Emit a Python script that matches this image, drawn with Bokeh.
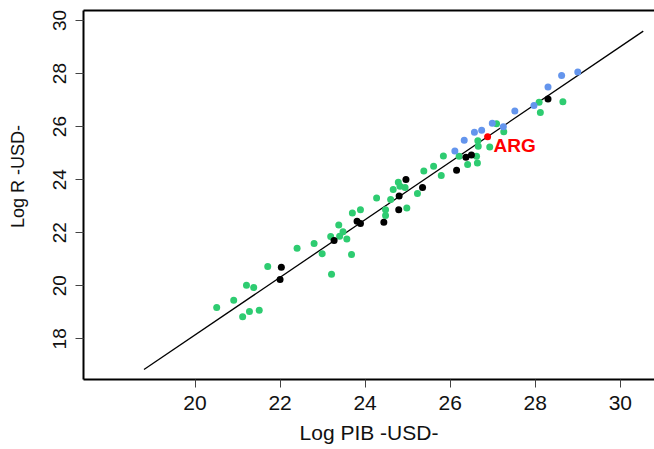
import math
from bokeh.plotting import figure
from bokeh.models import Range1d, FixedTicker, LinearAxis, Label
from bokeh.embed import file_html
from bokeh.resources import INLINE

# ---- data (Log PIB, Log R) ----
green_x = [20.51, 20.91, 21.21, 21.38, 21.28, 21.51, 21.12, 21.71, 22.40, 22.80,
           22.99, 23.21, 23.19, 23.38, 23.48, 23.40, 23.57, 23.68, 23.70, 23.89,
           24.27, 24.48, 24.48, 24.60, 24.66, 24.78, 24.82, 24.94, 24.98, 25.23,
           25.38, 25.61, 25.79, 25.84, 26.21, 26.41, 26.62, 26.64, 26.65, 26.66,
           26.93, 27.09, 27.26, 28.09, 28.12, 28.65]
green_y = [19.18, 19.45, 20.02, 19.93, 19.03, 19.08, 18.83, 20.73, 21.41, 21.59,
           21.21, 20.43, 21.86, 22.29, 22.04, 21.87, 21.76, 21.18, 22.74, 22.87,
           23.31, 22.87, 22.65, 23.25, 23.63, 23.90, 23.75, 23.70, 22.93, 23.48,
           24.33, 24.51, 24.16, 24.89, 24.88, 24.57, 24.88, 24.63, 25.47, 25.26,
           25.23, 26.11, 25.81, 26.92, 26.53, 26.94]

black_x = [22.00, 22.03, 23.27, 23.81, 23.89, 24.44, 24.79, 24.80, 24.96, 25.35,
           26.15, 26.37, 26.50, 28.30]
black_y = [20.24, 20.70, 21.71, 22.43, 22.35, 22.39, 22.87, 23.38, 24.01, 23.70,
           24.35, 24.84, 24.93, 27.04]

blue_x = [26.11, 26.33, 26.57, 26.74, 26.99, 27.25, 27.52, 27.97, 28.30, 28.62, 29.00]
blue_y = [25.08, 25.49, 25.79, 25.86, 26.13, 25.99, 26.59, 26.80, 27.49, 27.93, 28.06]

arg_x = [26.88]
arg_y = [25.62]
arg_label = "ARG"

fit_x = [18.80, 30.54]
fit_y = [16.84, 29.60]

x_ticks = [20, 22, 24, 26, 28, 30]
y_ticks = [18, 20, 22, 24, 26, 28, 30]

x_title = "Log PIB -USD-"
y_title = "Log R -USD-"
y_title_pos = 24.12

SANS = "'Liberation Sans', Arial, sans-serif"
INK = "#111111"

p = figure(width=654, height=449, output_backend="svg", toolbar_location=None,
           x_range=Range1d(17.378, 30.804), y_range=Range1d(16.466, 30.377),
           min_border_left=83, min_border_right=0, min_border_top=10,
           min_border_bottom=70, x_axis_location=None, y_axis_location=None)
p.outline_line_color = None
p.grid.visible = False
p.background_fill_color = "white"

# bottom axis
xa = LinearAxis(ticker=FixedTicker(ticks=x_ticks), axis_label=x_title)
xa.axis_line_width = 2
xa.axis_line_color = "black"
xa.major_tick_in = 0
xa.major_tick_out = 8
xa.major_tick_line_color = "#444444"
xa.minor_tick_line_color = None
xa.major_label_text_font = SANS
xa.major_label_text_font_size = "21px"
xa.major_label_text_color = INK
xa.major_label_standoff = 8
xa.axis_label_text_font = SANS
xa.axis_label_text_font_size = "21px"
xa.axis_label_text_font_style = "normal"
xa.axis_label_text_color = INK
xa.axis_label_standoff = 8
p.add_layout(xa, "below")

# left axis
ya = LinearAxis(ticker=FixedTicker(ticks=y_ticks))
ya.axis_line_width = 2
ya.axis_line_color = "black"
ya.major_tick_in = 0
ya.major_tick_out = 8
ya.major_tick_line_color = "#444444"
ya.minor_tick_line_color = None
ya.major_label_text_font = SANS
ya.major_label_text_font_size = "19px"
ya.major_label_text_color = INK
ya.major_label_orientation = "vertical"
ya.major_label_standoff = 9
p.add_layout(ya, "left")

# y axis title, as a single-label axis placed at the title's position
yt = LinearAxis(ticker=FixedTicker(ticks=[y_title_pos]),
                major_label_overrides={y_title_pos: y_title})
yt.axis_line_color = None
yt.major_tick_line_color = None
yt.minor_tick_line_color = None
yt.major_tick_in = 0
yt.major_tick_out = 0
yt.major_label_text_font = SANS
yt.major_label_text_font_size = "18px"
yt.major_label_text_color = INK
yt.major_label_orientation = "vertical"
yt.major_label_standoff = 22
p.add_layout(yt, "left")

# top border
ta = LinearAxis(ticker=FixedTicker(ticks=[]))
ta.axis_line_width = 2
ta.axis_line_color = "black"
ta.major_tick_line_color = None
ta.minor_tick_line_color = None
ta.major_label_text_font_size = "0px"
p.add_layout(ta, "above")

p.line(fit_x, fit_y, line_color="black", line_width=1.3)

p.scatter(green_x, green_y, size=7, fill_color="#2ECC71", line_color=None)
p.scatter(blue_x, blue_y, size=7, fill_color="#6495ED", line_color=None)
p.scatter(black_x, black_y, size=7, fill_color="black", line_color=None)
p.scatter(arg_x, arg_y, size=7, fill_color="#FF0000", line_color=None)

p.add_layout(Label(x=27.02, y=25.30, text=arg_label, text_color="#FF0000",
                   text_font=SANS, text_font_size="19px", text_font_style="bold",
                   text_align="left", text_baseline="middle"))

open("out.html", "w").write(file_html(p, INLINE))
